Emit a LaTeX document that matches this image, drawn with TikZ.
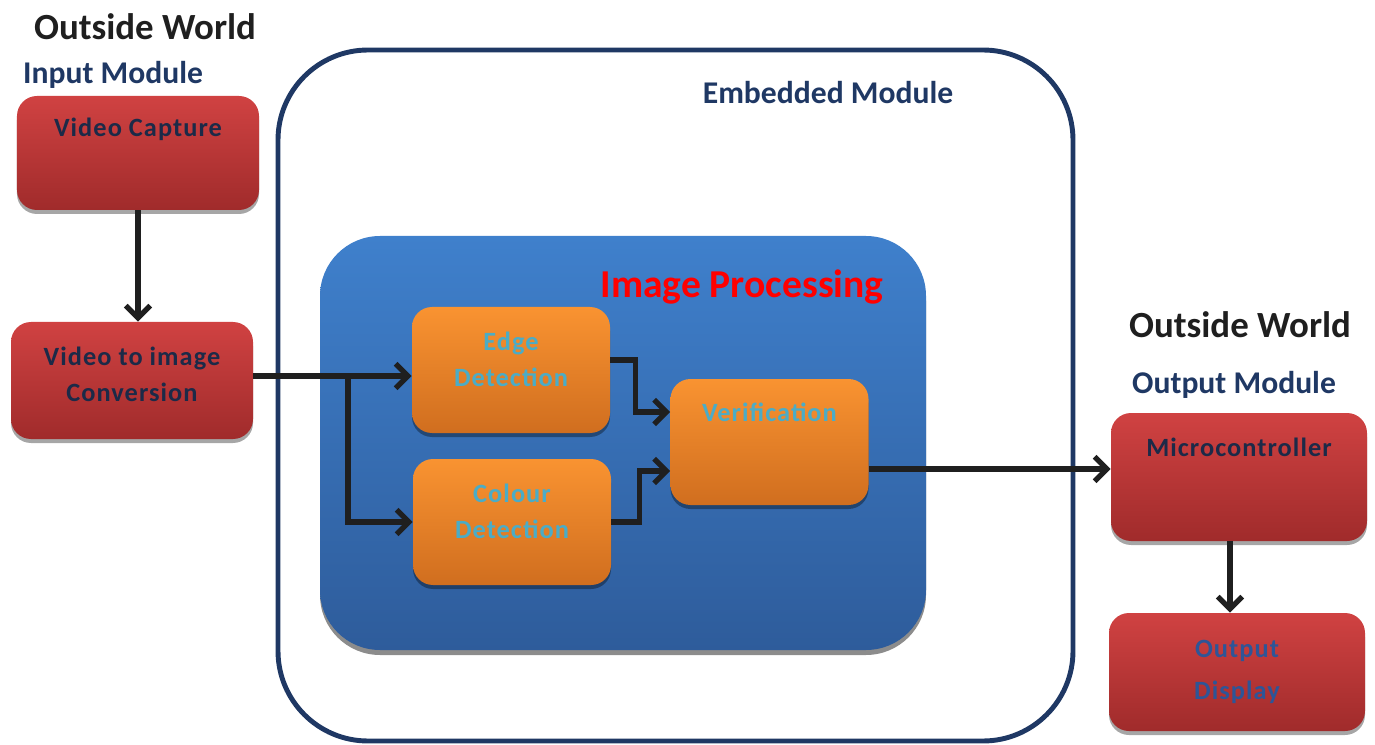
\documentclass[tikz,border=0pt]{standalone}
\usepackage{fontspec}
\setmainfont{Carlito}
\usetikzlibrary{arrows.meta,shadows}

\definecolor{navy}{HTML}{1F3864}
\definecolor{boxtext}{HTML}{1C2A48}
\definecolor{odblue}{HTML}{2E5597}
\definecolor{accentblue}{HTML}{4BACC6}
\definecolor{redtop}{HTML}{D04242}
\definecolor{redbot}{HTML}{A02B2B}
\definecolor{orangetop}{HTML}{F99331}
\definecolor{orangebot}{HTML}{D06E1F}
\definecolor{bluetop}{HTML}{3F80CC}
\definecolor{bluebot}{HTML}{2E5C9B}

% extra depth under the last line, lifts two-line texts a bit
\newcommand{\liftby}[1]{\rule[-#1]{0pt}{0pt}}

\tikzset{
  redbox/.style={rounded corners=0.4cm, top color=redtop, bottom color=redbot,
    minimum width=4.84cm, inner sep=0pt, text=boxtext,
    font=\fontsize{15}{20.5}\selectfont\bfseries\addfontfeature{LetterSpace=4},
    drop shadow={shadow xshift=0pt, shadow yshift=-0.08cm, fill=black, opacity=0.35}},
  orangebox/.style={redbox, top color=orangetop, bottom color=orangebot,
    minimum width=3.96cm, text=accentblue},
  title/.style={font=\fontsize{21}{25}\selectfont\bfseries, text=black!88},
  modlabel/.style={font=\fontsize{18}{22}\selectfont\bfseries, text=navy},
  arr/.style={line width=3pt, draw=black!88, -{Straight Barb[length=7pt,width=14pt]}}
}

\begin{document}
\begin{tikzpicture}
\useasboundingbox (0,0) rectangle (27.5,-14.9);
% containers
\draw[navy, line width=2.8pt, rounded corners=1.8cm] (5.56,-1.0) rectangle (21.46,-14.82);
\draw[draw=none, top color=bluetop, bottom color=bluebot, rounded corners=1.2cm,
  drop shadow={shadow xshift=0pt, shadow yshift=-0.1cm, fill=black, opacity=0.45}]
  (6.4,-4.72) rectangle (18.52,-13.0);
% labels
\node[title] (owleft) at (2.9,-0.54) {Outside World};
\node[modlabel] (inmod) at (2.26,-1.5) {Input Module};
\node[modlabel] (embmod) at (16.56,-1.86) {Embedded Module};
\node[font=\fontsize{22.5}{27}\selectfont\bfseries, text=red] (imgproc) at (14.84,-5.74) {Image Processing};
\node[title] (owright) at (24.8,-6.5) {Outside World};
\node[modlabel] (outmod) at (24.68,-7.7) {Output Module};
% blocks
\node[redbox, text height=0.82cm, text depth=1.46cm] (vc) at (2.76,-3.06) {Video Capture};
\node[redbox, align=center, minimum height=2.34cm] (vti) at (2.64,-7.61) {Video to image\\Conversion\liftby{0.24cm}};
\node[orangebox, align=center, minimum height=2.52cm] (edgedet) at (10.22,-7.40) {Edge\\Detection\liftby{0.44cm}};
\node[orangebox, align=center, minimum height=2.52cm] (coldet) at (10.24,-10.44) {Colour\\Detection\liftby{0.44cm}};
\node[orangebox, text height=0.84cm, text depth=1.68cm] (verif) at (15.39,-8.84) {Verification};
\node[redbox, minimum width=5.12cm, text height=0.86cm, text depth=1.70cm] (micro) at (24.78,-9.54) {Microcontroller};
\node[redbox, minimum width=5.12cm, align=center, minimum height=2.36cm, text=odblue] (outdisp) at (24.74,-13.44) {Output\\[0.12cm]Display};
% connectors
\coordinate (split) at (6.96,-7.52);
\draw[arr] (vc.south) -- (vc.south |- vti.north);
\draw[arr] (vti.east |- split) -- (edgedet.west |- split);
\draw[arr] (split) |- (coldet.west);
\draw[arr] ([yshift=0.2cm]edgedet.east) -- ++(0.5,0) |- ([yshift=0.6cm]verif.west);
\draw[arr] (coldet.east) -- ++(0.56,0) |- ([yshift=-0.58cm]verif.west);
\draw[arr] ([yshift=-0.54cm]verif.east) -- ([yshift=-0.54cm]verif.east -| micro.west);
\draw[arr] ([xshift=-0.18cm]micro.south) -- ([xshift=-0.18cm]micro.south |- outdisp.north);
\end{tikzpicture}
\end{document}
